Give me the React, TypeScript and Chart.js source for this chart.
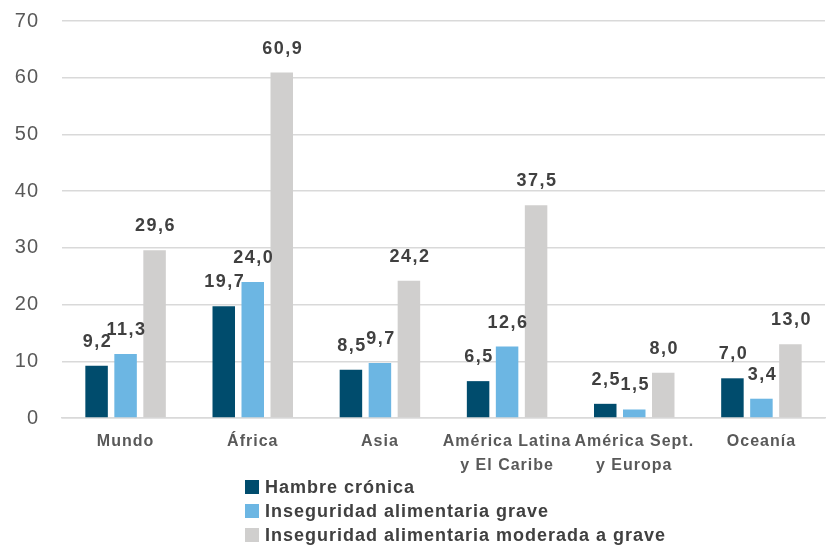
import React, { useEffect, useRef } from "react";
import { Chart, registerables } from "chart.js";

Chart.register(...registerables);

const categories: string[][] = [
  ["Mundo"],
  ["África"],
  ["Asia"],
  ["América Latina", "y El Caribe"],
  ["América Sept.", "y Europa"],
  ["Oceanía"],
];
const seriesNames = [
  "Hambre crónica",
  "Inseguridad alimentaria grave",
  "Inseguridad alimentaria moderada a grave",
];
const hambreCronica = [9.2, 19.7, 8.5, 6.5, 2.5, 7.0];
const inseguridadGrave = [11.3, 24.0, 9.7, 12.6, 1.5, 3.4];
const inseguridadModerada = [29.6, 60.9, 24.2, 37.5, 8.0, 13.0];
const seriesColors = ["#004C6D", "#6CB6E3", "#D0CFCE"];
const yTicks = [0, 10, 20, 30, 40, 50, 60, 70];

const fmt = (v: number) => v.toFixed(1).replace(".", ",");

const spacingPlugin = {
  id: "spacing",
  beforeDraw(chart: any) {
    chart.ctx.letterSpacing = "1px";
  },
  afterDraw(chart: any) {
    chart.ctx.letterSpacing = "0px";
  },
};

const labelPlugin = {
  id: "barLabels",
  afterDatasetsDraw(chart: any) {
    const ctx = chart.ctx;
    ctx.save();
    ctx.letterSpacing = "1.5px";
    ctx.font = "bold 18px Arial, 'Liberation Sans', sans-serif";
    ctx.fillStyle = "#404040";
    ctx.textAlign = "center";
    ctx.textBaseline = "middle";
    chart.data.datasets.forEach((ds: any, i: number) => {
      const meta = chart.getDatasetMeta(i);
      meta.data.forEach((el: any, j: number) => {
        ctx.fillText(fmt(ds.data[j]), el.x + 1, el.y - 24);
      });
    });
    ctx.restore();
  },
};

const legendPlugin = {
  id: "customLegend",
  afterDraw(chart: any) {
    const ctx = chart.ctx;
    ctx.save();
    ctx.letterSpacing = "1px";
    ctx.font = "bold 18px Arial, 'Liberation Sans', sans-serif";
    ctx.textAlign = "left";
    ctx.textBaseline = "middle";
    const left = 245;
    const top = 487;
    chart.data.datasets.forEach((ds: any, i: number) => {
      const y = top + i * 24;
      ctx.fillStyle = ds.backgroundColor;
      ctx.fillRect(left, y - 7, 14, 14);
      ctx.fillStyle = "#404040";
      ctx.fillText(ds.label, left + 20, y + 1);
    });
    ctx.restore();
  },
};

export default function App() {
  const ref = useRef<HTMLCanvasElement | null>(null);
  useEffect(() => {
    document.body.style.margin = "0";
    if (!ref.current) return;
    const data = [hambreCronica, inseguridadGrave, inseguridadModerada];
    const chart = new Chart(ref.current, {
      type: "bar",
      data: {
        labels: categories,
        datasets: seriesNames.map((name, i) => ({
          label: name,
          data: data[i],
          backgroundColor: seriesColors[i],
          borderWidth: 0,
          categoryPercentage: 0.684,
          barPercentage: 0.776,
        })),
      },
      options: {
        animation: false,
        responsive: false,
        maintainAspectRatio: false,
        layout: { padding: { top: 21, left: 0, right: 3, bottom: 68 } },
        plugins: {
          legend: { display: false },
          tooltip: { enabled: false },
        },
        scales: {
          x: {
            grid: { display: false, drawTicks: false },
            border: { display: true, color: "#D9D9D9", width: 1.5 },
            ticks: {
              color: "#595959",
              font: { family: "Arial, 'Liberation Sans', sans-serif", size: 16, weight: "bold", lineHeight: 1.5 },
              padding: 12,
              maxRotation: 0,
              autoSkip: false,
            },
            afterFit(scale: any) {
              scale.height = 60;
              scale.paddingLeft = 0;
              scale.paddingRight = 0;
            },
          },
          y: {
            min: 0,
            max: 70,
            afterBuildTicks(scale: any) {
              scale.ticks = yTicks.map((v) => ({ value: v }));
            },
            grid: { color: "#D9D9D9", lineWidth: 1.5, drawTicks: false },
            border: { display: false },
            ticks: {
              color: "#595959",
              font: { family: "Arial, 'Liberation Sans', sans-serif", size: 20 },
              padding: 23,
            },
            afterFit(scale: any) {
              scale.width = 62;
              scale.paddingTop = 0;
              scale.paddingBottom = 0;
            },
          },
        },
      },
      plugins: [spacingPlugin, labelPlugin, legendPlugin],
    } as any);
    return () => chart.destroy();
  }, []);
  return (
    <div style={{ width: 828, height: 546 }}>
      <canvas ref={ref} width={828} height={546} style={{ width: 828, height: 546 }} />
    </div>
  );
}
